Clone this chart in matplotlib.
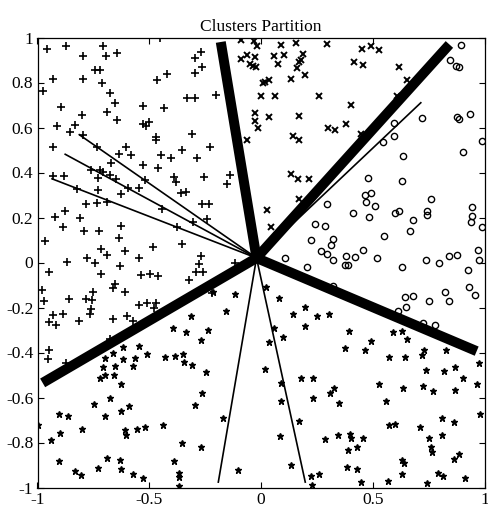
import matplotlib
matplotlib.use("Agg")
import matplotlib.pyplot as plt
from matplotlib.ticker import FuncFormatter

plt.rcParams["font.family"] = ["Liberation Serif", "DejaVu Serif"]
plt.rcParams["axes.unicode_minus"] = False

# cluster 1 ('+'), upper left
plus_x = [-0.956, -0.872, -0.798, -0.706, -0.694, -0.643, -0.932, -0.795, -0.741, -0.72,
          -0.711, -0.974, -0.676, -0.652, -0.688, -0.646, -0.896, -0.911, -0.832, -0.855,
          -0.8, -0.795, -0.735, -0.604, -0.58, -0.673, -0.634, -0.527, -0.529, -0.515,
          -0.503, -0.47, -0.47, -0.467, -0.419, -0.434, -0.333, -0.297, -0.201, -0.294,
          -0.264, -0.294, -0.267, -0.309, -0.228, -0.288, -0.353, -0.446, -0.404, -0.527,
          -0.461, -0.389, -0.38, -0.357, -0.336, -0.255, -0.265, -0.231, -0.24, -0.153,
          -0.139, -0.929, -0.932, -0.881, -0.759, -0.72, -0.729, -0.708, -0.676, -0.649,
          -0.595, -0.547, -0.625, -0.729, -0.825, -0.783, -0.735, -0.69, -0.876, -0.923,
          -0.81, -0.887, -0.792, -0.726, -0.628, -0.634, -0.968, -0.518, -0.443, -0.377,
          -0.306, -0.353, -0.482, -0.61, -0.717, -0.69, -0.78, -0.741, -0.867, -0.631,
          -0.547, -0.27, -0.279, -0.115, -0.45,
          -0.95, -0.717, -0.538, -0.497, -0.461, -0.291, -0.261, -0.321, -0.98, -0.971,
          -0.858, -0.783, -0.753, -0.756, -0.762, -0.765, -0.885, -0.932, -0.947, -0.917,
          -0.816, -0.664, -0.652, -0.661, -0.607, -0.598, -0.571, -0.547, -0.509, -0.47,
          -0.479, -0.676, -0.95, -0.953, -0.872, -0.183, -0.221]
plus_y = [0.95, 0.964, 0.92, 0.964, 0.92, 0.932, 0.816, 0.816, 0.855, 0.855,
          0.799, 0.764, 0.754, 0.707, 0.668, 0.632, 0.689, 0.606, 0.612, 0.582,
          0.656, 0.568, 0.512, 0.514, 0.476, 0.443, 0.483, 0.695, 0.617, 0.606,
          0.624, 0.559, 0.544, 0.81, 0.84, 0.686, 0.73, 0.733, 0.746, 0.843,
          0.87, 0.908, 0.935, 0.573, 0.514, 0.464, 0.498, 0.476, 0.464, 0.434,
          0.419, 0.381, 0.36, 0.307, 0.312, 0.381, 0.262, 0.262, 0.194, 0.351,
          0.387, 0.514, 0.384, 0.384, 0.413, 0.413, 0.376, 0.404, 0.387, 0.372,
          0.333, 0.33, 0.304, 0.324, 0.327, 0.262, 0.265, 0.271, 0.227, 0.203,
          0.2, 0.156, 0.141, 0.138, 0.164, 0.108, 0.096, 0.366, 0.236, 0.156,
          0.179, 0.084, 0.07, 0.049, 0.058, 0.034, 0.022, -0.001, 0.004, -0.016,
          0.022, 0.028, -0.007, -0.001, 1.0,
          -0.04, -0.052, -0.055, -0.052, -0.058, -0.04, -0.043, -0.079, -0.12, -0.173,
          -0.164, -0.164, -0.132, -0.168, -0.206, -0.23, -0.23, -0.232, -0.265, -0.277,
          -0.259, -0.25, -0.096, -0.114, -0.132, -0.239, -0.262, -0.191, -0.179, -0.182,
          -0.2, -0.339, -0.387, -0.431, -0.446, -0.07, -0.135]

# cluster 2 ('x'), top
cross_x = [-0.031, -0.019, -0.028, -0.034, -0.022, 0.058, 0.103, 0.076, 0.091, 0.157,
           0.189, 0.18, 0.171, 0.162, 0.198, 0.136, 0.019, 0.01, 0.034, -0.001,
           0.061, 0.261, 0.297, 0.452, 0.494, 0.529, 0.416, 0.458, 0.616, 0.652,
           0.607, 0.404, -0.028, -0.028, -0.013, 0.037, 0.171, 0.3, 0.33, 0.38,
           0.446, 0.145, 0.169, 0.136, 0.166, 0.216, 0.169, 0.025, 0.046, 0.153,
           -0.091, -0.088, -0.061, -0.049, -0.061]
cross_y = [0.985, 0.961, 0.914, 0.872, 0.87, 0.92, 0.923, 0.881, 0.968, 0.976,
           0.926, 0.899, 0.89, 0.864, 0.834, 0.816, 0.804, 0.799, 0.813, 0.742,
           0.742, 0.739, 0.973, 0.95, 0.964, 0.944, 0.893, 0.876, 0.867, 0.813,
           0.742, 0.698, 0.665, 0.63, 0.6, 0.648, 0.65, 0.597, 0.588, 0.615,
           0.57, 0.561, 0.544, 0.392, 0.369, 0.369, 0.283, 0.232, 0.156, 0.206,
           0.988, 0.905, 0.923, 0.884, 0.544]

# cluster 3 ('o'), right
circ_x = [0.896, 0.846, 0.872, 0.887, 0.72, 0.878, 0.885, 0.935, 0.595, 0.595,
          0.547, 0.634, 0.902, 0.99, 0.479, 0.631, 0.464, 0.491, 0.47, 0.511,
          0.294, 0.41, 0.485, 0.601, 0.616, 0.679, 0.741, 0.744, 0.759, 0.944,
          0.944, 0.941, 0.99, 0.243, 0.288, 0.666, 0.55, 0.225, 0.324, 0.315,
          0.27, 0.294, 0.324, 0.38, 0.419, 0.455, 0.518, 0.377, 0.389, 0.738,
          0.795, 0.84, 0.878, 0.971, 0.974, 0.106, 0.631, 0.204,
          0.926, 0.646, 0.679, 0.75, 0.822, 0.843, 0.929, 0.956, 0.613, 0.649,
          0.723, 0.78, 0.324]
circ_y = [0.968, 0.899, 0.872, 0.87, 0.641, 0.648, 0.636, 0.659, 0.618, 0.561,
          0.535, 0.472, 0.49, 0.538, 0.375, 0.363, 0.301, 0.31, 0.268, 0.25,
          0.259, 0.218, 0.203, 0.218, 0.227, 0.191, 0.227, 0.212, 0.283, 0.248,
          0.206, 0.179, 0.156, 0.173, 0.161, 0.138, 0.117, 0.099, 0.105, 0.076,
          0.052, 0.037, 0.01, 0.028, 0.025, 0.055, 0.019, -0.01, -0.01, 0.013,
          -0.004, 0.031, 0.034, 0.055, 0.01, 0.022, -0.019, -0.022,
          -0.034, -0.153, -0.15, -0.173, -0.129, -0.17, -0.108, -0.144, -0.215, -0.197,
          -0.268, -0.277, -0.105]

# cluster 4 ('*'), bottom
star_x = [-0.392, -0.336, -0.312, -0.237, -0.27, -0.115, -0.157, -0.216, -0.246, -0.264,
          -0.294, -0.169, -0.267, -0.353, -0.437, -0.52, -0.553, -0.607, -0.604, -0.592,
          -0.625, -0.628, -0.658, -0.697, -0.72, -0.708, -0.697, -0.655, -0.616, -0.616,
          -0.664, -0.547, -0.562, -0.571, -0.509, -0.428, -0.386, -0.348, -0.345, -0.309,
          -0.676, -0.697, -0.747, -0.801, -0.905, -0.864, -0.899, -0.938, -0.905, -0.834,
          -0.804, -0.729, -0.688, -0.631, -0.625, -0.574, -0.529, -0.389, -0.368, -0.365,
          -0.365, -0.103, -0.998,
          0.022, 0.079, 0.142, 0.196, 0.196, 0.249, 0.303, 0.058, 0.1, 0.034,
          0.017, 0.091, 0.091, 0.178, 0.231, 0.231, 0.309, 0.327, 0.35, 0.171,
          0.085, 0.133, 0.225, 0.258, 0.285, 0.345, 0.398, 0.401, 0.458, 0.389,
          0.428, 0.383, 0.431, 0.377, 0.395, 0.464, 0.491, 0.529, 0.559, 0.571,
          0.601, 0.574, 0.592, 0.631, 0.652, 0.643, 0.72, 0.729, 0.637, 0.723,
          0.738, 0.771, 0.819, 0.828, 0.869, 0.905, 0.869, 0.968, 0.974, 0.81,
          0.864, 0.98, 0.711, 0.75, 0.759, 0.765, 0.81, 0.864, 0.885, 0.631,
          0.64, 0.631, 0.792, 0.816, 0.911, 0.446, 0.568, 0.741, 0.23]
star_y = [-0.292, -0.307, -0.239, -0.298, -0.345, -0.138, -0.215, -0.129, -0.487, -0.582,
          -0.632, -0.692, -0.819, -0.801, -0.721, -0.73, -0.742, -0.745, -0.766, -0.636,
          -0.659, -0.538, -0.499, -0.499, -0.514, -0.464, -0.425, -0.458, -0.431, -0.375,
          -0.404, -0.369, -0.425, -0.458, -0.407, -0.422, -0.416, -0.407, -0.44, -0.455,
          -0.603, -0.683, -0.63, -0.739, -0.674, -0.683, -0.757, -0.787, -0.884, -0.926,
          -0.943, -0.914, -0.867, -0.876, -0.917, -0.941, -0.956, -0.881, -0.935, -0.953,
          -0.994, -0.923, -0.724,
          -0.111, -0.159, -0.23, -0.197, -0.283, -0.239, -0.23, -0.292, -0.33, -0.354,
          -0.472, -0.535, -0.615, -0.514, -0.514, -0.603, -0.582, -0.556, -0.623, -0.704,
          -0.769, -0.902, -0.947, -0.938, -0.784, -0.766, -0.763, -0.778, -0.778, -0.834,
          -0.822, -0.911, -0.917, -0.378, -0.304, -0.387, -0.348, -0.541, -0.615, -0.724,
          -0.716, -0.419, -0.307, -0.304, -0.342, -0.419, -0.413, -0.387, -0.556, -0.547,
          -0.476, -0.573, -0.484, -0.39, -0.464, -0.514, -0.568, -0.541, -0.446, -0.689,
          -0.71, -0.674, -0.73, -0.781, -0.822, -0.843, -0.766, -0.872, -0.852, -0.879,
          -0.89, -0.938, -0.935, -0.95, -0.959, -0.976, -0.97, -0.982, -0.99]

# partition lines, all starting at the common centre
center = (-0.02, 0.02)
thick_end_x = [-0.18, 0.843, 0.965, -0.977]
thick_end_y = [0.98, 0.969, -0.394, -0.535]
thin_end_x = [-0.813, -0.876, -0.935, 0.715, -0.191, 0.198]
thin_end_y = [0.568, 0.481, 0.372, 0.71, -0.976, -0.976]

fig = plt.figure(figsize=(4.88, 5.08), dpi=100)
ax = fig.add_axes([37.5 / 488, 20.5 / 508, 447 / 488, 450 / 508])

for ex, ey in zip(thin_end_x, thin_end_y):
    ax.plot([center[0], ex], [center[1], ey], color="black", lw=1.2)
for ex, ey in zip(thick_end_x, thick_end_y):
    ax.plot([center[0], ex], [center[1], ey], color="black", lw=7.2,
            solid_capstyle="butt")

ax.plot(plus_x, plus_y, "k+", ms=6, mew=1.2, ls="none")
ax.plot(cross_x, cross_y, "kx", ms=4.5, mew=1.4, ls="none")
ax.plot(circ_x, circ_y, "o", mfc="none", mec="black", ms=4.5, mew=1.0, ls="none")
ax.plot(star_x, star_y, "k*", ms=5, ls="none")

ax.set_xlim(-1, 1)
ax.set_ylim(-1, 1)
ax.set_xticks([-1, -0.5, 0, 0.5, 1])
ax.set_yticks([-1, -0.8, -0.6, -0.4, -0.2, 0, 0.2, 0.4, 0.6, 0.8, 1])
fmt = FuncFormatter(lambda v, p: "%g" % round(v, 2))
ax.xaxis.set_major_formatter(fmt)
ax.yaxis.set_major_formatter(fmt)
ax.tick_params(direction="in", top=True, right=True, length=4, width=0.8,
               labelsize=12.5, pad=3)
for s in ax.spines.values():
    s.set_linewidth(0.9)
ax.set_title("Clusters Partition", fontsize=12.5, pad=5)

fig.savefig("out.png", dpi=100)
